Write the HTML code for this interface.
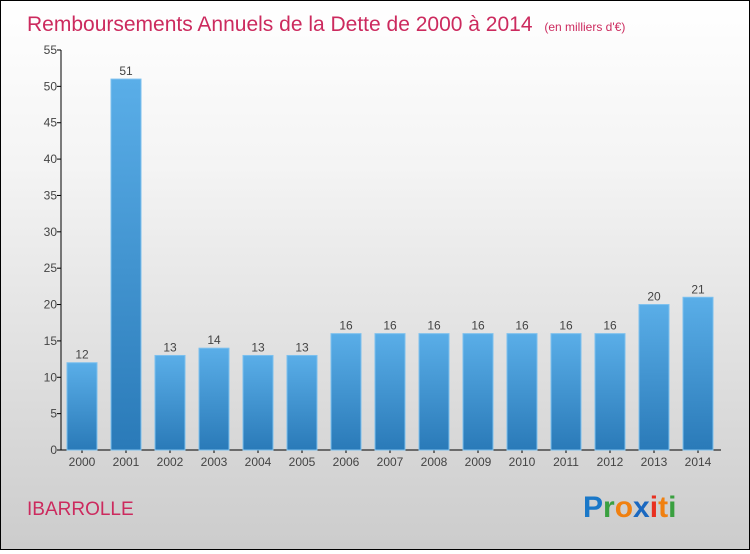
<!DOCTYPE html>
<html><head><meta charset="utf-8"><style>
html,body{margin:0;padding:0}
body{width:750px;height:550px;overflow:hidden;font-family:"Liberation Sans",sans-serif}
#wrap{position:absolute;left:0;top:0;width:748px;height:548px;border:1px solid #000;background:linear-gradient(#ffffff,#f4f4f4 30%,#cccccc)}
</style></head><body>
<div id="wrap">
<svg id="chart" width="748" height="548">
<defs><linearGradient id="bg" x1="0" y1="0" x2="0" y2="1"><stop offset="0" stop-color="#5aaee8"/><stop offset="1" stop-color="#2a7ab8"/></linearGradient></defs>
<text x="26" y="30" font-size="21" fill="#cc2a5e">Remboursements Annuels de la Dette de 2000 à 2014 <tspan font-size="12" dx="6">(en milliers d'€)</tspan></text>
<text x="26" y="514" font-size="19" fill="#cc2a5e">IBARROLLE</text>
<g font-size="30" font-weight="bold" font-family="'Liberation Sans',sans-serif">
<text x="582" y="516"><tspan fill="#1a78c8">P</tspan><tspan fill="#3aa040">r</tspan><tspan fill="#f08010">o</tspan><tspan fill="#1a68c0">x</tspan><tspan fill="#e83020">i</tspan><tspan fill="#f08010">t</tspan><tspan fill="#3aa040">i</tspan></text>
</g>
<g id="axes"></g><g id="bars"></g>
</svg></div>
<script>
const categories=["2000","2001","2002","2003","2004","2005","2006","2007","2008","2009","2010","2011","2012","2013","2014"];
const values=[12,51,13,14,13,13,16,16,16,16,16,16,16,20,21];
const yTicks=[0,5,10,15,20,25,30,35,40,45,50,55];
const NS="http://www.w3.org/2000/svg";
const x0=60,x1=720,yBase=449,yTop=49,yMax=55;
const y=v=>yBase-(v/yMax)*(yBase-yTop);
const step=44,first=81;
const xc=i=>first+i*step;
function mk(t,a,p){const e=document.createElementNS(NS,t);for(const k in a)e.setAttribute(k,a[k]);p.appendChild(e);return e;}
const ax=document.getElementById('axes'),bg=document.getElementById('bars');
const yl=mk('line',{x1:x0,y1:yTop,x2:x0,y2:yBase,stroke:'#000'},ax);


const xl=mk('line',{x1:x0,y1:yBase,x2:x1,y2:yBase,stroke:'#000'},ax);


yTicks.forEach(v=>{
 mk('line',{x1:x0-4,y1:y(v),x2:x0,y2:y(v),stroke:'#000'},ax);
 const t=mk('text',{x:x0-4,y:y(v)+4,'text-anchor':'end','font-size':12,fill:'#444'},ax);
 t.textContent=v;
 
 
});
categories.forEach((c,i)=>{
 const r=mk('rect',{x:xc(i)-15,y:y(values[i]),width:30,height:yBase-y(values[i]),fill:'url(#bg)',stroke:'#7cc0ee','stroke-width':1},bg);
 
 
 const l=mk('text',{x:xc(i),y:y(values[i])-4,'text-anchor':'middle','font-size':12,fill:'#444'},bg);
 l.textContent=values[i];
 
 
 const tx=mk('text',{x:xc(i),y:yBase+16,'text-anchor':'middle','font-size':12,fill:'#444'},ax);
 tx.textContent=c;
 
 
 mk('line',{x1:xc(i),y1:yBase,x2:xc(i),y2:yBase+3,stroke:'#000'},ax);
});
</script>
</body></html>
